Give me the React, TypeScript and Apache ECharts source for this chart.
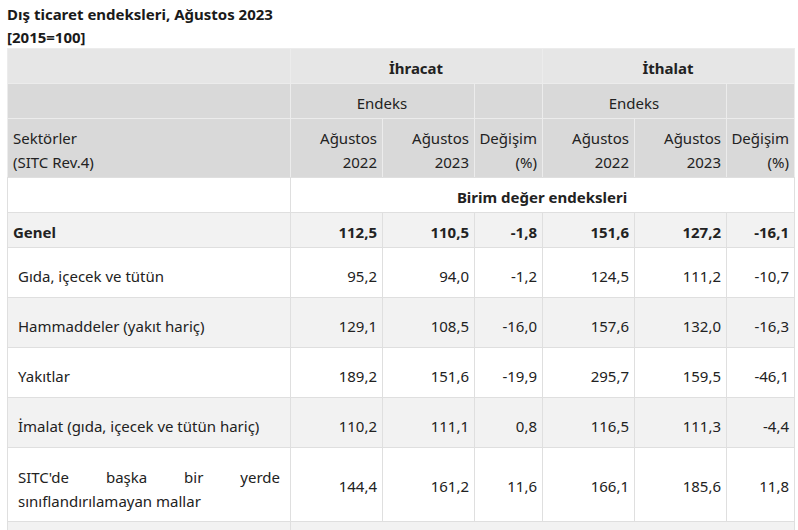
import React, { useEffect, useRef } from 'react';
import * as echarts from 'echarts';

const titleText = 'Dış ticaret endeksleri, Ağustos 2023';
const subtitleText = '[2015=100]';
const groupLabels = ['İhracat', 'İthalat'];
const subGroupLabel = 'Endeks';
const colHeadTop = ['Ağustos', 'Ağustos', 'Değişim'];
const colHeadBottom = ['2022', '2023', '(%)'];
const rowHeadTop = 'Sektörler';
const rowHeadBottom = '(SITC Rev.4)';
const sectionTitle = 'Birim değer endeksleri';

const sectors = [
  'Genel',
  'Gıda, içecek ve tütün',
  'Hammaddeler (yakıt hariç)',
  'Yakıtlar',
  'İmalat (gıda, içecek ve tütün hariç)',
  "SITC'de başka bir yerde sınıflandırılamayan mallar",
];
const ihracat2022 = [112.5, 95.2, 129.1, 189.2, 110.2, 144.4];
const ihracat2023 = [110.5, 94.0, 108.5, 151.6, 111.1, 161.2];
const ihracatDegisim = [-1.8, -1.2, -16.0, -19.9, 0.8, 11.6];
const ithalat2022 = [151.6, 124.5, 157.6, 295.7, 116.5, 166.1];
const ithalat2023 = [127.2, 111.2, 132.0, 159.5, 111.3, 185.6];
const ithalatDegisim = [-16.1, -10.7, -16.3, -46.1, -4.4, 11.8];

const FAMILY = '"Noto Sans", "Open Sans", sans-serif';
const FS = 15;
const TXT = '#222222';

const E = [7, 290, 382, 474, 542, 634, 726, 794];
const R = [48, 83, 118, 177, 212, 247, 297, 347, 397, 447, 521, 531];

const fmt = (v: number) => v.toFixed(1).replace('.', ',');

function measure(text: string, weight: string) {
  const c = document.createElement('canvas').getContext('2d')!;
  c.font = `${weight} ${FS}px ${FAMILY}`;
  return c.measureText(text).width;
}

export default function App() {
  const ref = useRef<HTMLDivElement>(null);
  useEffect(() => {
    if (!ref.current) return;
    const chart = echarts.init(ref.current, undefined, { renderer: 'svg' });
    const g: any[] = [];
    const rect = (x0: number, x1: number, y0: number, y1: number, fill: string) =>
      g.push({ type: 'rect', silent: true, shape: { x: x0, y: y0, width: x1 - x0, height: y1 - y0 }, style: { fill } });
    const cell = (c0: number, c1: number, r: number, fill: string) =>
      rect(E[c0] + 1, E[c1], R[r] + 1, R[r + 1], fill);
    const text = (t: string, x: number, y: number, align: string, bold = false, color = TXT) =>
      g.push({
        type: 'text', silent: true, x, y,
        style: { text: t, fill: color, font: `${bold ? 'bold' : 'normal'} ${FS}px ${FAMILY}`, align, verticalAlign: 'middle' },
      });

    // Border backgrounds
    rect(E[0], E[7] + 1, R[0], R[3] + 1, '#ececec');
    rect(E[0], E[7] + 1, R[3], R[11], '#dfdfdf');

    // Header row 0
    cell(0, 1, 0, '#e6e6e6');
    cell(1, 4, 0, '#e6e6e6');
    cell(4, 7, 0, '#e6e6e6');
    // Header row 1
    const hd = '#d9d9d9';
    cell(0, 1, 1, hd); cell(1, 3, 1, hd); cell(3, 4, 1, hd); cell(4, 6, 1, hd); cell(6, 7, 1, hd);
    // Header row 2
    for (let c = 0; c < 7; c++) cell(c, c + 1, 2, hd);
    // Section row
    cell(0, 1, 3, '#ffffff'); cell(1, 7, 3, '#ffffff');
    // Data rows
    sectors.forEach((_, i) => {
      const fill = i % 2 === 0 ? '#f2f2f2' : '#ffffff';
      for (let c = 0; c < 7; c++) cell(c, c + 1, 4 + i, fill);
    });
    // next partial row
    cell(0, 1, 10, '#f2f2f2'); cell(1, 7, 10, '#f2f2f2');

    // Title
    text(titleText, 7, 14, 'left', true, '#1a1a1a');
    text(subtitleText, 7, 37, 'left', true, '#1a1a1a');

    // Header texts
    const midY = (r: number) => (R[r] + R[r + 1]) / 2 + 0.5;
    text(groupLabels[0], (E[1] + E[4]) / 2, midY(0) + 1.5, 'center', true);
    text(groupLabels[1], (E[4] + E[7]) / 2, midY(0) + 1.5, 'center', true);
    text(subGroupLabel, (E[1] + E[3]) / 2, midY(1) + 1.5, 'center');
    text(subGroupLabel, (E[4] + E[6]) / 2, midY(1) + 1.5, 'center');
    text(rowHeadTop, 13, 137.5, 'left');
    text(rowHeadBottom, 13, 161.5, 'left');
    for (let c = 1; c < 7; c++) {
      const k = (c - 1) % 3;
      text(colHeadTop[k], E[c + 1] - 5, 137.5, 'right');
      text(colHeadBottom[k], E[c + 1] - 5, 161.5, 'right');
    }
    text(sectionTitle, (E[1] + E[7]) / 2, midY(3) + 1.5, 'center', true);

    // Data
    const cols = [ihracat2022, ihracat2023, ihracatDegisim, ithalat2022, ithalat2023, ithalatDegisim];
    sectors.forEach((name, i) => {
      const r = 4 + i;
      const h = R[r + 1] - R[r];
      const y = midY(r) + (h > 40 ? 3.5 : 1.5);
      const bold = i === 0;
      const lx = i === 0 ? 13 : 18;
      if (i === sectors.length - 1) {
        const words = name.split(' ');
        const line1 = words.slice(0, 4);
        const line2 = words.slice(4).join(' ');
        const right = 280;
        const widths = line1.map((w) => measure(w, 'normal'));
        const total = widths.reduce((a, b) => a + b, 0);
        const gap = (right - lx - total) / (line1.length - 1);
        let x = lx;
        line1.forEach((w, j) => {
          text(w, x, midY(r) - 8, 'left');
          x += widths[j] + gap;
        });
        text(line2, lx, midY(r) + 16, 'left');
        cols.forEach((arr, c) => text(fmt(arr[i]), E[c + 2] - 5, midY(r) + 1.5, 'right', bold));
      } else {
        text(name, lx, y, 'left', bold);
        cols.forEach((arr, c) => text(fmt(arr[i]), E[c + 2] - 5, y, 'right', bold));
      }
    });

    chart.setOption({ animation: false, graphic: { elements: g } });
    return () => chart.dispose();
  }, []);
  return <div ref={ref} style={{ position: 'absolute', left: 0, top: 0, width: 798, height: 530, background: '#fff' }} />;
}
